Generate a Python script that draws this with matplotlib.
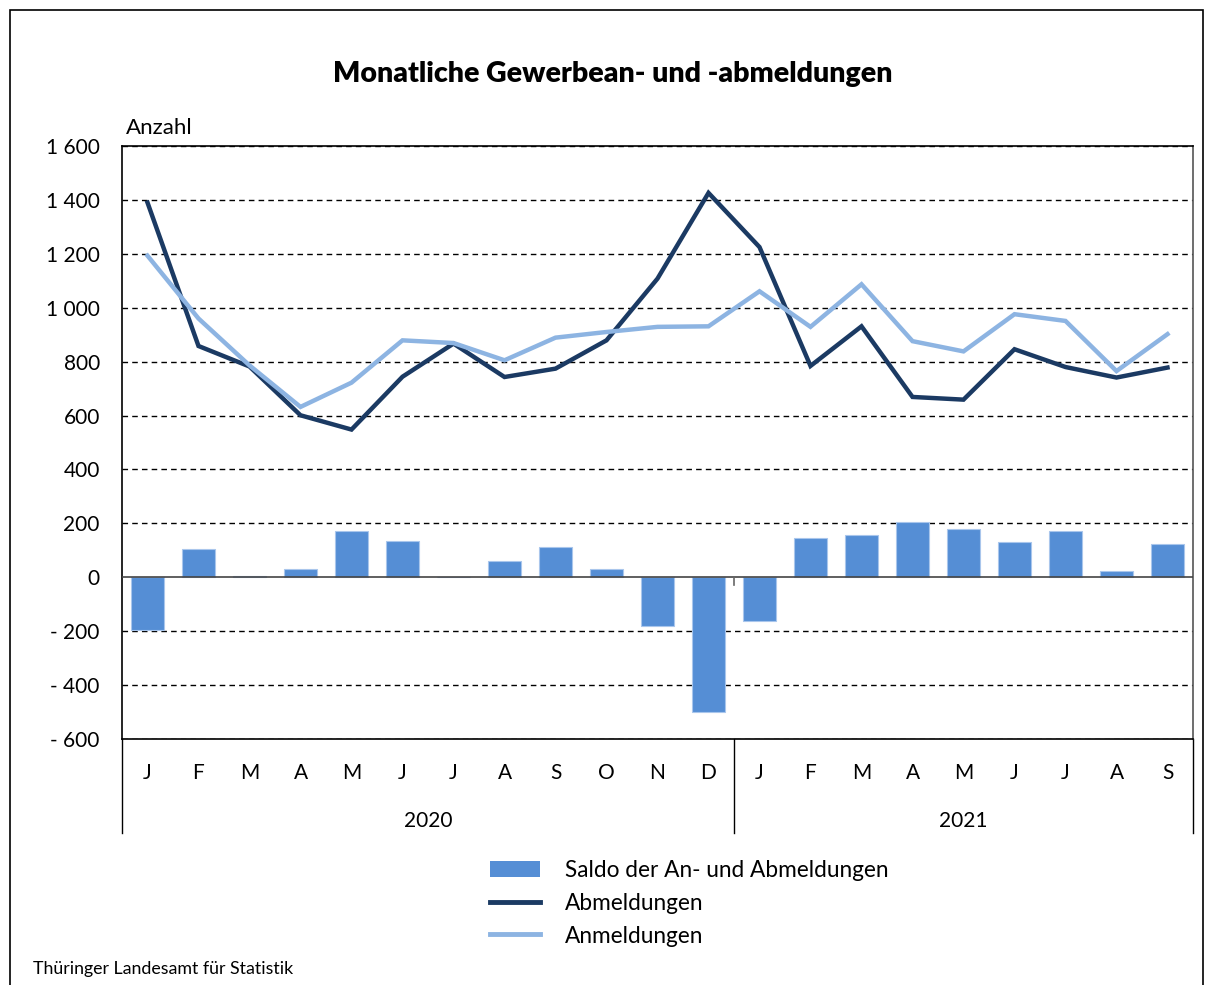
import numpy as np
import matplotlib
matplotlib.use("Agg")
import matplotlib.pyplot as plt
from matplotlib.patches import Rectangle, Patch
from matplotlib.lines import Line2D

plt.rcParams["font.family"] = ["Lato", "DejaVu Sans"]

months = ["J", "F", "M", "A", "M", "J", "J", "A", "S", "O", "N", "D",
          "J", "F", "M", "A", "M", "J", "J", "A", "S"]
years = ["2020", "2021"]
year_lengths = [12, 9]

abmeldungen = [1390, 858, 782, 601, 548, 744, 867, 743, 774, 879, 1108, 1426,
               1225, 784, 931, 669, 659, 846, 780, 741, 778]
anmeldungen = [1193, 960, 786, 632, 722, 879, 869, 805, 889, 910, 929, 931,
               1061, 929, 1087, 876, 838, 976, 951, 765, 902]
saldo = [-195, 104, 4, 30, 173, 135, 2, 60, 112, 30, -180, -498,
         -164, 144, 157, 206, 179, 130, 170, 24, 124]

yticks = [1600, 1400, 1200, 1000, 800, 600, 400, 200, 0, -200, -400, -600]

c_bar = "#558ED5"
c_ab = "#1B3A63"
c_an = "#8DB4E2"

fig = plt.figure(figsize=(12.05, 9.85), dpi=100)
ax = fig.add_axes([122 / 1205, 1 - 739 / 985, 1071 / 1205, 593 / 985])

x = np.arange(len(months))
ax.set_xlim(-0.5, len(months) - 0.5)
ax.set_ylim(-600, 1600)

# grid
for t in yticks:
    if t == 0:
        continue
    ax.axhline(t, color="black", lw=1.0, ls=(0, (4, 3)), zorder=1)

ax.bar(x, saldo, width=0.66, color=c_bar, edgecolor="#A9C6EC", linewidth=0.8, zorder=2)
ax.axhline(0, color="#444444", lw=1.2, zorder=3)
ax.plot(x, abmeldungen, color=c_ab, lw=3.2, zorder=4, solid_joinstyle="miter")
ax.plot(x, anmeldungen, color=c_an, lw=3.2, zorder=5, solid_joinstyle="miter")

# small tick at year boundary on the zero line
ax.plot([11.5, 11.5], [0, -30], color="#666666", lw=1.2, zorder=3)

ax.set_yticks(yticks)
ax.set_yticklabels([("- " if t < 0 else "") + format(abs(t), ",").replace(",", " ") for t in yticks],
                   fontsize=15)
ax.tick_params(axis="y", length=0, pad=16)
ax.set_xticks(x)
ax.set_xticklabels(months, fontsize=15)
ax.tick_params(axis="x", length=0, pad=17)

for s in ["left", "right", "top", "bottom"]:
    ax.spines[s].set_color("black")
    ax.spines[s].set_linewidth(1.2)
ax.spines["right"].set_color("#555555")

# category separators and year labels
trans = ax.get_xaxis_transform()
bounds = [-0.5]
for n in year_lengths:
    bounds.append(bounds[-1] + n)
for b in bounds:
    ax.plot([b, b], [0, -0.1585], transform=trans, color="black", lw=1.0, clip_on=False)
for i, yr in enumerate(years):
    ax.text((bounds[i] + bounds[i + 1]) / 2, -0.139, yr, transform=trans,
            ha="center", va="center", fontsize=15)

ax.text(0.004, 1.031, "Anzahl", transform=ax.transAxes, fontsize=16, ha="left", va="center")

fig.text(613 / 1205, 1 - 74 / 985, "Monatliche Gewerbean- und -abmeldungen",
         ha="center", va="center", fontsize=20.5, fontweight="heavy")

handles = [Patch(facecolor=c_bar, edgecolor="none"),
           Line2D([0], [0], color=c_ab, lw=3.5),
           Line2D([0], [0], color=c_an, lw=3.5)]
labels = ["Saldo der An- und Abmeldungen", "Abmeldungen", "Anmeldungen"]
fig.legend(handles, labels, loc="upper left", bbox_to_anchor=(490 / 1205, 1 - 860 / 985),
           frameon=False, fontsize=16.3, handlelength=2.2, handleheight=0.75,
           handletextpad=1.1, labelspacing=0.52, borderaxespad=0, borderpad=0)

fig.text(33 / 1205, 1 - 969 / 985, "Thüringer Landesamt für Statistik",
         ha="left", va="center", fontsize=12.8)

# outer frame
fig.add_artist(Rectangle((10 / 1205, -0.05), 1193 / 1205, 1.05 - 10 / 985,
                         transform=fig.transFigure, fill=False, edgecolor="black", lw=1.2))

fig.savefig("out.png", dpi=100)
